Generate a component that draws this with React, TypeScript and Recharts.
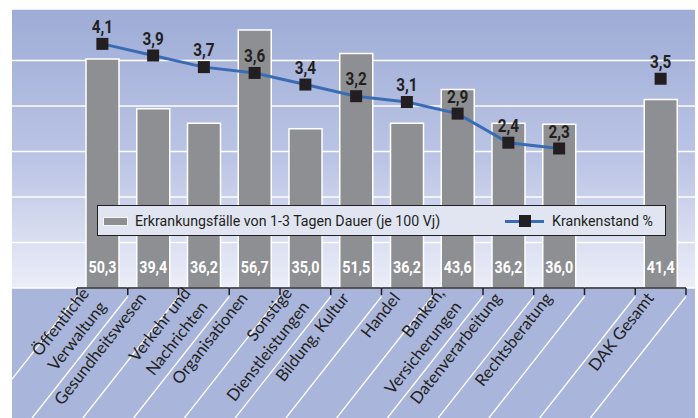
import React from 'react';
import { ComposedChart, Bar, Line, XAxis, YAxis, CartesianGrid, LabelList } from 'recharts';

const CATEGORIES = [
  'Öffentliche\nVerwaltung',
  'Gesundheitswesen',
  'Verkehr und\nNachrichten',
  'Organisationen',
  'Sonstige\nDienstleistungen',
  'Bildung, Kultur',
  'Handel',
  'Banken,\nVersicherungen',
  'Datenverarbeitung',
  'Rechtsberatung',
  ' ',
  'DAK Gesamt',
];
// Erkrankungsfälle von 1-3 Tagen Dauer (je 100 Vj)
const CASES = [50.3, 39.4, 36.2, 56.7, 35.0, 51.5, 36.2, 43.6, 36.2, 36.0, null, 41.4];
// Krankenstand %
const SICK_RATE = [4.1, 3.9, 3.7, 3.6, 3.4, 3.2, 3.1, 2.9, 2.4, 2.3, null, 3.5];
const CASE_TICKS = [0, 10, 20, 30, 40, 50];

const data = CATEGORIES.map((name, i) => ({ name, cases: CASES[i], rate: SICK_RATE[i] }));

const W = 698;
const H = 418;
const M_LEFT = 12;
const M_TOP = 9;
const M_RIGHT = 3;
const AXIS_H = 130;
const PAD_L = 65;
const PAD_R = 9;
const BAND = (W - M_LEFT - M_RIGHT - PAD_L - PAD_R) / CATEGORIES.length;
const ANGLE = 51.8;

const NUM_FONT = "Roboto, 'Noto Sans', sans-serif";
const LABEL_FONT = "Lato, 'Noto Sans', sans-serif";
const DARK = '#231f20';

const fmt = (v: number) => v.toFixed(1).replace('.', ',');

function diagonal(bx: number, y0: number, key: string) {
  const t = Math.tan((ANGLE * Math.PI) / 180);
  let x2 = bx - (H - y0) / t;
  let y2 = H;
  if (x2 < M_LEFT) {
    x2 = M_LEFT;
    y2 = y0 + (bx - M_LEFT) * t;
  }
  return <line key={key} x1={bx} y1={y0} x2={x2} y2={y2} stroke="#fff" strokeWidth={1.3} />;
}

function CategoryTick(props: any) {
  const { x, y, payload, index } = props;
  const left = x - BAND / 2;
  const right = x + BAND / 2;
  const last = index === CATEGORIES.length - 1;
  const lines = String(payload.value).split('\n').filter((s) => s.trim());
  const baselines = lines.length === 1 ? [-23.5] : [-31.5, -9.8];
  return (
    <g>
      <line x1={left} y1={y} x2={right} y2={y} stroke={DARK} strokeWidth={1.5} />
      <line x1={left} y1={y} x2={left} y2={y + 7} stroke={DARK} strokeWidth={1.5} />
      {last && <line x1={right} y1={y} x2={right} y2={y + 7} stroke={DARK} strokeWidth={1.5} />}
      {diagonal(left, y + 8.5, 'l')}
      {last && diagonal(right, y + 8.5, 'r')}
      <g transform={`translate(${right},${y + 8.5}) rotate(${-ANGLE})`}>
        {lines.map((l, i) => (
          <text key={i} x={-21} y={baselines[i]} textAnchor="end" fontFamily={LABEL_FONT} fontSize={16.5} fill={DARK}>
            {l}
          </text>
        ))}
      </g>
    </g>
  );
}

function RateLabel(props: any) {
  const { x, y, value } = props;
  if (value == null) return null;
  return (
    <g transform={`translate(${x},${y - 11}) scale(0.85,1)`}>
      <text x={0} y={0} textAnchor="middle" fontFamily={NUM_FONT} fontWeight={700} fontSize={18} fill={DARK}>
        {fmt(value)}
      </text>
    </g>
  );
}

function CaseLabel(props: any) {
  const { x, y, width, height, value } = props;
  if (value == null) return null;
  return (
    <g transform={`translate(${x + width / 2},${y + height - 15}) scale(0.84,1)`}>
      <text x={0} y={0} textAnchor="middle" fontFamily={NUM_FONT} fontWeight={700} fontSize={17} fill="#fff">
        {fmt(value)}
      </text>
    </g>
  );
}

function SquareDot(props: any) {
  const { cx, cy, value } = props;
  if (value == null || cx == null || cy == null) return null;
  return <rect key={`d${cx}`} x={cx - 6} y={cy - 6} width={12} height={12} fill={DARK} />;
}

const legendText: React.CSSProperties = {
  position: 'absolute',
  top: 5,
  lineHeight: '20px',
  whiteSpace: 'nowrap',
  transform: 'scaleX(0.915)',
  transformOrigin: 'left center',
};

export default function App() {
  return (
    <div style={{ position: 'absolute', left: 0, top: 0, width: W, height: H, background: '#fff' }}>
      <div style={{ position: 'absolute', left: M_LEFT, top: M_TOP, width: W - M_LEFT - M_RIGHT, height: H - M_TOP, background: '#a9b5db' }} />
      <div style={{ position: 'absolute', left: 0, top: 0 }}>
        <ComposedChart width={W} height={H} data={data} margin={{ top: M_TOP, right: M_RIGHT, bottom: 0, left: M_LEFT }}>
          <defs>
            <linearGradient id="plotBg" x1="0" y1="0" x2="0" y2="1">
              <stop offset="0%" stopColor="#9eacd6" />
              <stop offset="55%" stopColor="#bcc5e5" />
              <stop offset="100%" stopColor="#eceef8" />
            </linearGradient>
          </defs>
          <CartesianGrid yAxisId="cases" vertical={false} stroke="#fff" strokeWidth={1.5} fill="url(#plotBg)" fillOpacity={1} />
          <XAxis
            dataKey="name"
            height={AXIS_H}
            interval={0}
            padding={{ left: PAD_L, right: PAD_R }}
            axisLine={false}
            tickLine={false}
            tickSize={0}
            tickMargin={0}
            tick={<CategoryTick />}
          />
          <YAxis yAxisId="cases" hide domain={[0, 61.3]} ticks={CASE_TICKS} />
          <YAxis yAxisId="rate" orientation="right" hide domain={[-0.1, 4.7]} />
          <Bar yAxisId="cases" dataKey="cases" barSize={33} fill="#8e8f93" stroke="#fff" strokeWidth={1.5} isAnimationActive={false}>
            <LabelList dataKey="cases" content={<CaseLabel />} />
          </Bar>
          <Line
            yAxisId="rate"
            dataKey="rate"
            stroke="#3a6cb6"
            strokeWidth={3}
            dot={<SquareDot />}
            activeDot={false}
            isAnimationActive={false}
          >
            <LabelList dataKey="rate" content={<RateLabel />} />
          </Line>
        </ComposedChart>
      </div>
      <div
        style={{
          position: 'absolute',
          left: 97,
          top: 205,
          width: 569,
          height: 31,
          boxSizing: 'border-box',
          border: `1.5px solid ${DARK}`,
          background: '#e1e5f2',
          fontFamily: NUM_FONT,
          fontSize: 15.5,
          color: DARK,
        }}
      >
        <div style={{ position: 'absolute', left: 5, top: 11, width: 25, height: 9, background: '#8e8f93', boxSizing: 'border-box', border: '1px solid #f4f5fa' }} />
        <div style={{ ...legendText, left: 37 }}>Erkrankungsfälle von 1-3 Tagen Dauer (je 100 Vj)</div>
        <div style={{ position: 'absolute', left: 407, top: 14, width: 39, height: 3, background: '#3a6cb6' }} />
        <div style={{ position: 'absolute', left: 421, top: 9, width: 12, height: 12, background: DARK }} />
        <div style={{ ...legendText, left: 454 }}>Krankenstand %</div>
      </div>
    </div>
  );
}
